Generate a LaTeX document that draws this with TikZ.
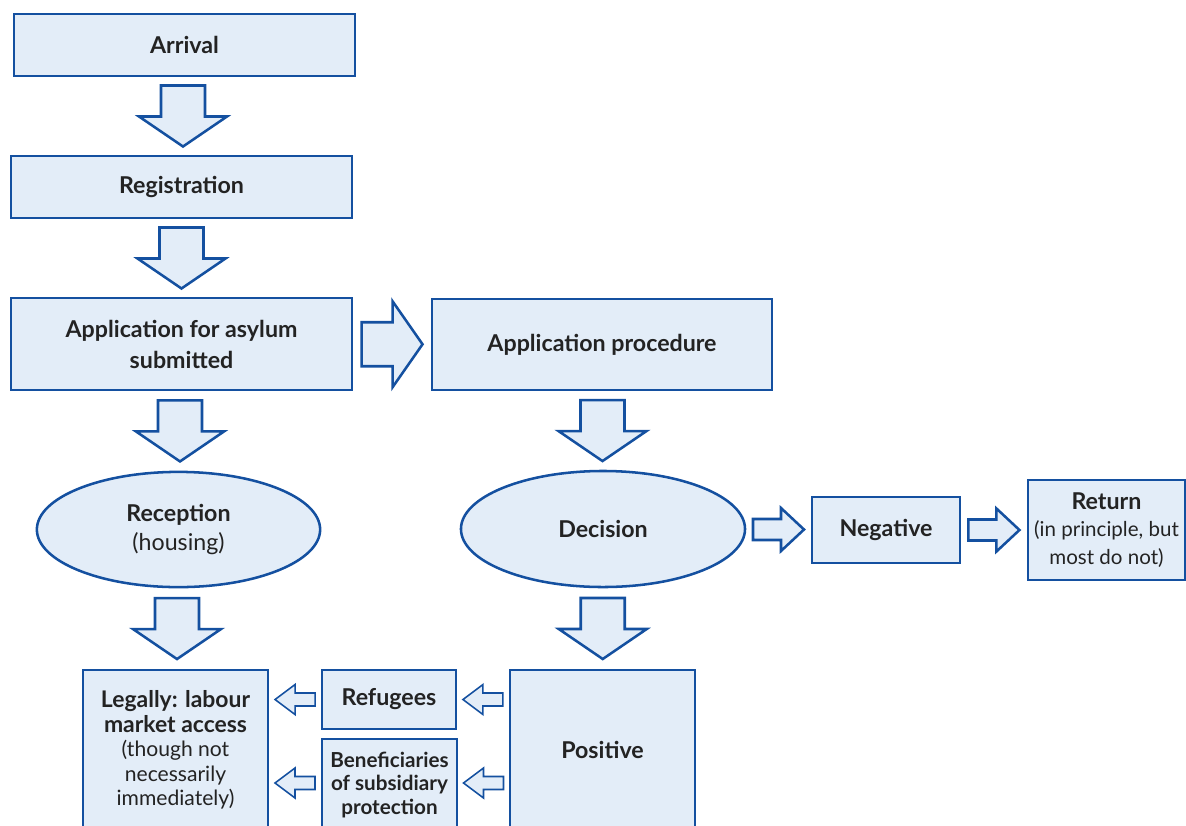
\documentclass[tikz,border=0pt]{standalone}
\usepackage{fontspec}
\setmainfont{Lato}
\usepackage{xcolor}
\usetikzlibrary{shapes,positioning,calc}

\definecolor{procblue}{HTML}{1450A0}
\definecolor{procfill}{HTML}{E3EDF8}
\definecolor{proctext}{HTML}{232323}

\newcommand{\bigtext}[1]{{\fontsize{16.3}{17.4}\selectfont\bfseries #1}}

\tikzset{
    stage/.style={draw=procblue, fill=procfill, line width=1.8pt, text=proctext,
        align=center, inner sep=2pt, font=\fontsize{16.5}{20}\selectfont},
    stagebox/.style={stage, rectangle},
    stageoval/.style={stage, ellipse, inner sep=0pt},
    bigarrow/.style={draw=procblue, fill=procfill, line width=1.8pt},
    smallarrow/.style={draw=procblue, fill=procfill, line width=1.1pt}
}

% block arrow between two points: [style]{from}{to}{angle}{length}{shaft}{head}{head length}
\newcommand{\fatarrow}[8][bigarrow]{%
    \begin{scope}[shift={($(#2)!0.5!(#3)$)}, rotate=#4]
        \draw[#1] ({-#5/2},{-#6}) -- ({#5/2-#8},{-#6}) -- ({#5/2-#8},{-#7}) -- ({#5/2},0)
            -- ({#5/2-#8},{#7}) -- ({#5/2-#8},{#6}) -- ({-#5/2},{#6}) -- cycle;
    \end{scope}}

\begin{document}
\begin{tikzpicture}[x=0.025cm, y=-0.025cm]
    \useasboundingbox (0,0) rectangle (1186,825);
    \clip (0,0) rectangle (1186,825);

    % Left column
    \node[stagebox, minimum width=8.53cm, minimum height=1.55cm] (arrival) at (184.5,45) {\textbf{Arrival}};
    \node[stagebox, minimum width=8.53cm, minimum height=1.55cm] (registration) at (181.5,187) {\textbf{Registration}};
    \node[stagebox, minimum width=8.53cm, minimum height=2.3cm, font=\fontsize{16.5}{22}\selectfont] (application) at (181.5,344)
        {\textbf{Application for asylum}\\\textbf{submitted}};
    \node[stageoval, minimum width=7.08cm, minimum height=2.88cm] (reception) at (178.5,529.5)
        {\textbf{Reception}\\(housing)};
    \node[stagebox, minimum width=4.63cm, minimum height=4cm, font=\fontsize{15}{17.4}\selectfont] (labour) at (175.5,750)
        {\bigtext{Legally: labour}\\\bigtext{market access}\\(though not\\necessarily\\immediately)};

    % Right column
    \node[stagebox, minimum width=8.5cm, minimum height=2.28cm] (procedure) at (602,344.5) {\textbf{Application procedure}};
    \node[stageoval, minimum width=7.1cm, minimum height=2.9cm] (decision) at (603,529) {\textbf{Decision}};
    \node[stagebox, minimum width=3.7cm, minimum height=1.65cm] (negative) at (886,530) {\textbf{Negative}};
    \node[stagebox, minimum width=3.93cm, minimum height=2.5cm, font=\fontsize{14.6}{19.5}\selectfont] (return) at (1106.5,530)
        {\textbf{\fontsize{16.5}{19.5}\selectfont Return}\\(in principle, but\\most do not)};
    \node[stagebox, minimum width=4.63cm, minimum height=4cm] (positive) at (602.5,750) {\textbf{Positive}};

    % Status boxes
    \node[stagebox, minimum width=3.35cm, minimum height=1.48cm] (refugees) at (389,699.5) {\textbf{Refugees}};
    \node[stagebox, minimum width=3.38cm, minimum height=2.3cm, font=\fontsize{14.7}{17}\selectfont] (subsidiary) at (389.5,785)
        {\textbf{Beneficiaries}\\\textbf{of subsidiary}\\\textbf{protection}};

    % Big arrows
    \fatarrow{arrival.south}{registration.north}{-90}{61}{22}{44}{30}
    \fatarrow{registration.south}{application.north}{-90}{61}{22}{44}{30}
    \fatarrow{application.south}{reception.north}{-90}{61}{22}{44}{30}
    \fatarrow{reception.south}{labour.north}{-90}{61}{22}{44}{30}
    \fatarrow{application.east}{procedure.west}{0}{61}{22}{43}{30}
    \fatarrow{procedure.south}{decision.north}{-90}{61}{22}{44}{30}
    \fatarrow{decision.south}{positive.north}{-90}{61}{22}{44}{30}

    % Negative branch
    \fatarrow{decision.east}{negative.west}{0}{51}{10.5}{21.5}{23}
    \fatarrow{negative.east}{return.west}{0}{51}{10.5}{21.5}{23}

    % Positive branch
    \fatarrow[smallarrow]{positive.west |- refugees}{refugees.east}{180}{40}{6.5}{15}{20}
    \fatarrow[smallarrow]{refugees.west}{labour.east |- refugees}{180}{40}{6.5}{15}{20}
    \fatarrow[smallarrow]{positive.west |- 0,783}{subsidiary.east |- 0,783}{180}{40}{6.5}{15}{20}
    \fatarrow[smallarrow]{subsidiary.west |- 0,783}{labour.east |- 0,783}{180}{40}{6.5}{15}{20}
\end{tikzpicture}
\end{document}
